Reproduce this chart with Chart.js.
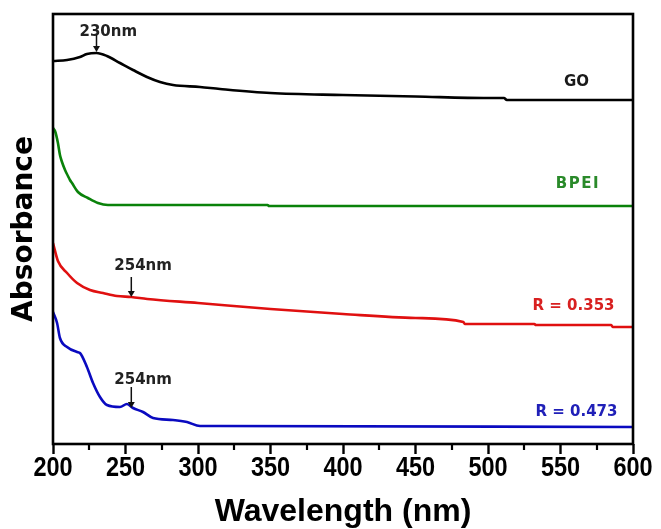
<!DOCTYPE html>
<html>
<head>
<meta charset="utf-8">
<script src="https://cdn.jsdelivr.net/npm/chart.js@4.4.1/dist/chart.umd.min.js"></script>
<style>
  html, body { margin: 0; padding: 0; background: #ffffff; }
  #wrap { width: 661px; height: 529px; }
</style>
</head>
<body>
<div id="wrap"><canvas id="c" width="661" height="529"></canvas></div>
<script>
// UV-Vis spectra: wavelength (nm) and absorbance (offset, arbitrary units)
const goWavelength = [200, 209.7, 218.6, 223.4, 230, 237.2, 246.2, 255.2, 264.8, 273.8, 282.8, 301.4, 315.2, 350, 400, 450, 500, 511, 513, 600];
const goAbsorbance = [3.83, 3.84, 3.87, 3.90, 3.91, 3.88, 3.81, 3.74, 3.67, 3.62, 3.59, 3.57, 3.55, 3.51, 3.49, 3.475, 3.46, 3.46, 3.44, 3.44];

const bpeiWavelength = [200, 201.4, 203.4, 204.8, 206.2, 208.3, 210.3, 211.7, 213.1, 217.2, 224.1, 231, 237.9, 348, 349, 600];
const bpeiAbsorbance = [3.16, 3.13, 3.01, 2.89, 2.82, 2.74, 2.68, 2.64, 2.61, 2.52, 2.46, 2.41, 2.39, 2.39, 2.38, 2.38];

const r353Wavelength = [200, 203.4, 209.7, 216.6, 225.5, 234.5, 244.1, 254, 265, 300, 350, 400, 450, 483, 484, 532, 533, 585, 586, 600];
const r353Absorbance = [2.01, 1.83, 1.71, 1.61, 1.54, 1.51, 1.48, 1.47, 1.45, 1.41, 1.35, 1.30, 1.26, 1.22, 1.20, 1.20, 1.19, 1.19, 1.17, 1.17];

const r473Wavelength = [200, 202.8, 204.8, 209.7, 216.6, 218.6, 223.4, 227.6, 232.4, 237.2, 246.2, 251, 255.2, 262.1, 269, 282.8, 292.4, 301.4, 315.2, 600];
const r473Absorbance = [1.32, 1.21, 1.06, 0.97, 0.92, 0.91, 0.77, 0.61, 0.47, 0.39, 0.37, 0.40, 0.36, 0.32, 0.26, 0.24, 0.22, 0.18, 0.18, 0.17];

// Curve names and where they are written (wavelength, absorbance of text centre)
const seriesNames = ['GO', 'BPEI', 'R = 0.353', 'R = 0.473'];
const seriesColors = ['#000000', '#0a820a', '#e01010', '#0a0ac0'];
const nameColors = ['#1a1a1a', '#2a8a2a', '#d82020', '#2020b8'];
const nameWavelength = [561, 562, 559, 561];
const nameAbsorbance = [3.62, 2.60, 1.38, 0.32];

// Peak markers: label, wavelength, arrow tail / tip absorbance, label absorbance
const peakLabels = ['230nm', '254nm', '254nm'];
const peakWavelength = [230, 254, 254];
const peakTail = [4.09, 1.67, 0.57];
const peakTip = [3.92, 1.47, 0.36];
const peakLabelY = [4.12, 1.775, 0.64];

// Axis ticks
const xMin = 200, xMax = 600, xMajorStep = 50;
const xMinorTicks = [225, 275, 325, 375, 425, 475, 525, 575];

function toPoints(xs, ys) { return xs.map((x, i) => ({ x: x, y: ys[i] })); }

const seriesX = [goWavelength, bpeiWavelength, r353Wavelength, r473Wavelength];
const seriesY = [goAbsorbance, bpeiAbsorbance, r353Absorbance, r473Absorbance];

const datasets = seriesNames.map((name, i) => ({
  label: name,
  data: toPoints(seriesX[i], seriesY[i]),
  borderColor: seriesColors[i],
  borderWidth: 2.6,
  pointRadius: 0,
  fill: false,
  cubicInterpolationMode: 'monotone'
}));

const decorations = {
  id: 'decorations',
  afterDraw(chart) {
    const ctx = chart.ctx;
    const xs = chart.scales.x, ys = chart.scales.y;
    const a = chart.chartArea;
    ctx.save();
    // frame
    ctx.strokeStyle = '#000';
    ctx.lineWidth = 2.6;
    ctx.strokeRect(a.left, a.top, a.right - a.left, a.bottom - a.top);
    // minor ticks
    ctx.lineWidth = 2.2;
    xMinorTicks.forEach(v => {
      const px = Math.round(xs.getPixelForValue(v));
      ctx.beginPath();
      ctx.moveTo(px, a.bottom);
      ctx.lineTo(px, a.bottom + 6);
      ctx.stroke();
    });
    // condensed tick labels under the major ticks
    ctx.fillStyle = '#000';
    ctx.font = 'bold 28px "Liberation Sans", Arial, sans-serif';
    ctx.textAlign = 'center';
    ctx.textBaseline = 'middle';
    xs.ticks.forEach(t => {
      const px = xs.getPixelForValue(t.value);
      ctx.save();
      ctx.translate(px, a.bottom + 24);
      ctx.scale(0.84, 1);
      ctx.fillText(String(t.value), 0, 0);
      ctx.restore();
    });
    // curve names
    ctx.font = 'bold 15px "DejaVu Sans", sans-serif';
    seriesNames.forEach((n, i) => {
      ctx.fillStyle = nameColors[i];
      ctx.letterSpacing = (n === 'BPEI') ? '1.5px' : '0px';
      ctx.fillText(n, xs.getPixelForValue(nameWavelength[i]), ys.getPixelForValue(nameAbsorbance[i]));
    });
    ctx.letterSpacing = '0px';
    // peak markers
    ctx.textAlign = 'left';
    peakLabels.forEach((t, i) => {
      const px = xs.getPixelForValue(peakWavelength[i]);
      const y0 = ys.getPixelForValue(peakTail[i]);
      const y1 = ys.getPixelForValue(peakTip[i]);
      ctx.fillStyle = '#222';
      ctx.fillText(t, px - 17, ys.getPixelForValue(peakLabelY[i]));
      ctx.strokeStyle = '#111';
      ctx.lineWidth = 1.5;
      ctx.beginPath();
      ctx.moveTo(px, y0);
      ctx.lineTo(px, y1 - 5);
      ctx.stroke();
      ctx.fillStyle = '#111';
      ctx.beginPath();
      ctx.moveTo(px - 3.5, y1 - 6);
      ctx.lineTo(px + 3.5, y1 - 6);
      ctx.lineTo(px, y1);
      ctx.closePath();
      ctx.fill();
    });
    ctx.restore();
  }
};

new Chart(document.getElementById('c'), {
  type: 'line',
  data: { datasets: datasets },
  options: {
    responsive: false,
    animation: false,
    devicePixelRatio: 1,
    layout: { padding: { top: 14, right: 28, left: 0, bottom: 0 } },
    plugins: { legend: { display: false }, tooltip: { enabled: false } },
    scales: {
      x: {
        type: 'linear',
        min: xMin,
        max: xMax,
        border: { display: false },
        grid: { display: true, drawOnChartArea: false, drawTicks: true, tickLength: 10, tickWidth: 2.4, tickColor: '#000' },
        ticks: {
          stepSize: xMajorStep,
          padding: 3,
          color: 'rgba(0,0,0,0)',
          maxRotation: 0,
          font: { family: '"Liberation Sans", Arial, sans-serif', weight: 'bold', size: 24 }
        },
        title: {
          display: true,
          text: 'Wavelength (nm)',
          color: '#000',
          padding: { top: 0, bottom: 1 },
          font: { family: '"Liberation Sans", Arial, sans-serif', weight: 'bold', size: 32, lineHeight: 1 }
        },
        afterFit(scale) { scale.height = 85; }
      },
      y: {
        type: 'linear',
        min: 0,
        max: 4.3,
        border: { display: false },
        grid: { display: false },
        ticks: { display: false },
        title: {
          display: true,
          text: 'Absorbance',
          color: '#000',
          padding: { top: 8, bottom: 0 },
          font: { family: '"DejaVu Sans", sans-serif', weight: 'bold', size: 28, lineHeight: 1.2 }
        },
        afterFit(scale) { scale.width = 53; }
      }
    }
  },
  plugins: [decorations]
});
</script>
</body>
</html>
